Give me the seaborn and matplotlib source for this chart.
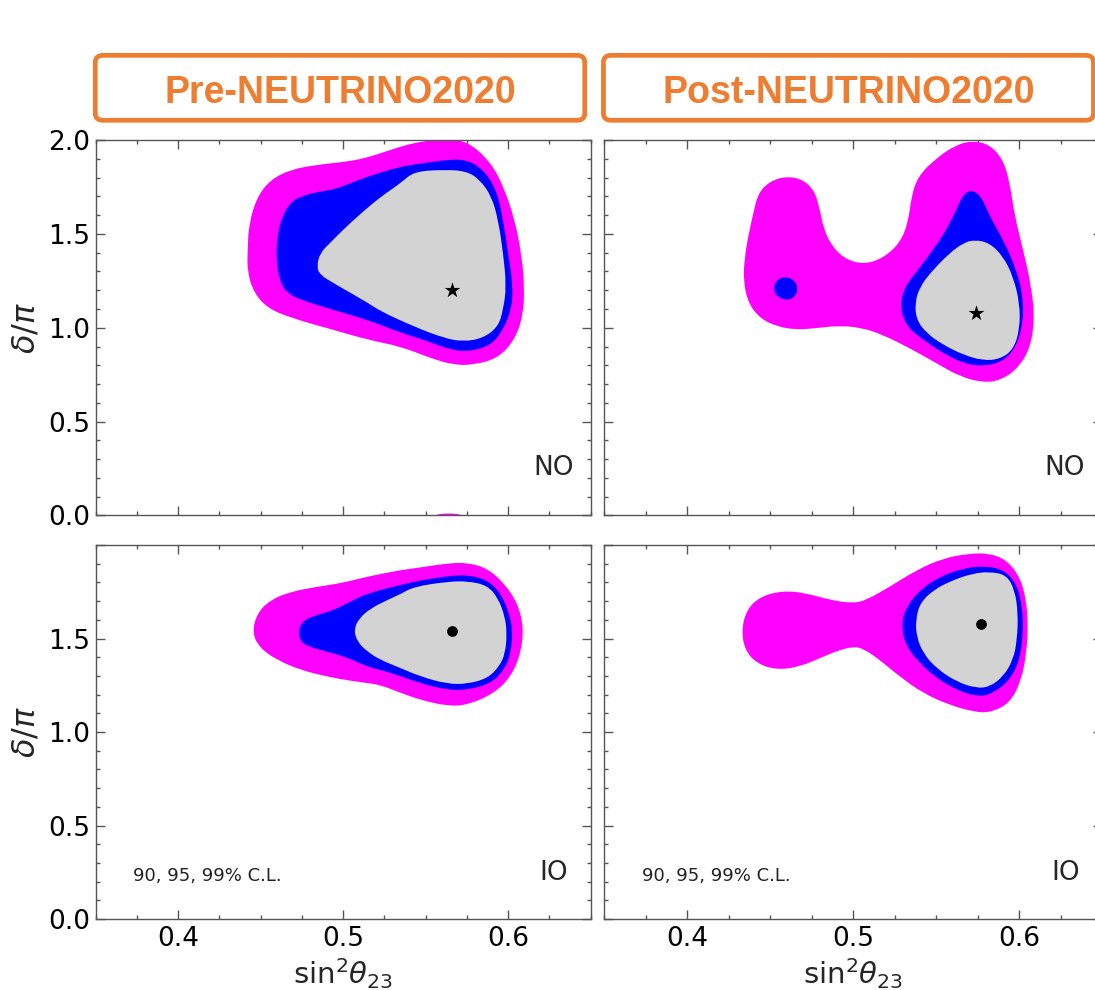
import numpy as np
import matplotlib
matplotlib.use("Agg")
import matplotlib.pyplot as plt
import seaborn as sns
from matplotlib.path import Path
from matplotlib.patches import PathPatch, FancyBboxPatch
from matplotlib.ticker import MultipleLocator

# ---- allowed regions (x = sin^2 theta23, y = delta/pi) ----
# Pre-NEUTRINO2020, normal ordering
pre_no_99_x = [0.442, 0.443, 0.448, 0.456, 0.468, 0.484, 0.504, 0.516, 0.529, 0.543, 0.559, 0.575,
               0.590, 0.598, 0.604, 0.608, 0.610, 0.609, 0.604, 0.594, 0.579, 0.567, 0.553, 0.535,
               0.515, 0.494, 0.468, 0.454, 0.446, 0.442]
pre_no_99_y = [1.415, 1.559, 1.699, 1.788, 1.842, 1.868, 1.886, 1.910, 1.948, 1.986, 2.004, 1.998,
               1.877, 1.735, 1.575, 1.398, 1.220, 1.060, 0.936, 0.838, 0.802, 0.802, 0.838, 0.900,
               0.936, 0.989, 1.053, 1.106, 1.186, 1.293]
pre_no_99_wrap_x = [0.554, 0.556, 0.564, 0.572, 0.574]
pre_no_99_wrap_y = [-0.02, 0.006, 0.012, 0.006, -0.02]
pre_no_95_x = [0.4595, 0.460, 0.463, 0.468, 0.474, 0.486, 0.494, 0.505, 0.515, 0.535, 0.547, 0.563,
               0.575, 0.585, 0.593, 0.597, 0.600, 0.603, 0.602, 0.597, 0.590, 0.577, 0.565, 0.549,
               0.535, 0.515, 0.494, 0.474, 0.466, 0.462]
pre_no_95_y = [1.346, 1.486, 1.593, 1.666, 1.699, 1.726, 1.735, 1.771, 1.806, 1.859, 1.874, 1.895,
               1.895, 1.842, 1.735, 1.575, 1.399, 1.220, 1.095, 0.989, 0.909, 0.873, 0.882, 0.936,
               0.973, 1.042, 1.095, 1.149, 1.186, 1.239]
pre_no_90_x = [0.484, 0.486, 0.492, 0.500, 0.511, 0.523, 0.535, 0.543, 0.563, 0.575, 0.583, 0.590,
               0.594, 0.597, 0.599, 0.597, 0.594, 0.585, 0.573, 0.561, 0.543, 0.523, 0.515, 0.494,
               0.486]
pre_no_90_y = [1.326, 1.398, 1.451, 1.522, 1.611, 1.699, 1.771, 1.833, 1.842, 1.833, 1.788, 1.699,
               1.575, 1.398, 1.220, 1.095, 1.006, 0.945, 0.926, 0.945, 1.006, 1.086, 1.133, 1.238,
               1.282]
pre_no_best = (0.566, 1.20)

# Post-NEUTRINO2020, normal ordering
post_no_99_x = [0.4337, 0.4347, 0.4367, 0.4398, 0.4428, 0.4498, 0.4598, 0.4699, 0.4769, 0.4799,
                0.4819, 0.4859, 0.4940, 0.5060, 0.5181, 0.5281, 0.5331, 0.5351, 0.5391, 0.5502,
                0.5622, 0.5723, 0.5823, 0.5904, 0.5944, 0.5974, 0.6024, 0.6074, 0.6094, 0.6064,
                0.5984, 0.5884, 0.5783, 0.5643, 0.5502, 0.5341, 0.5181, 0.5040, 0.4900, 0.4779,
                0.4659, 0.4538, 0.4438, 0.4367]
post_no_99_y = [1.255, 1.380, 1.486, 1.611, 1.718, 1.780, 1.807, 1.789, 1.726, 1.629,
                1.540, 1.451, 1.371, 1.336, 1.371, 1.451, 1.558, 1.700, 1.807, 1.904,
                1.975, 1.996, 1.975, 1.895, 1.771, 1.593, 1.416, 1.220, 1.042, 0.882,
                0.776, 0.719, 0.708, 0.740, 0.811, 0.891, 0.962, 1.003, 1.010, 0.998,
                0.989, 1.007, 1.051, 1.131]
post_no_99_wrap_x = [0.569, 0.572, 0.576]
post_no_99_wrap_y = [-0.02, 0.008, -0.02]
post_no_95_x = [0.5713, 0.5773, 0.5823, 0.5904, 0.5984, 0.6024, 0.6024, 0.5984, 0.5904, 0.5783,
                0.5663, 0.5542, 0.5422, 0.5321, 0.5281, 0.5311, 0.5392, 0.5482, 0.5562, 0.5622,
                0.5663]
post_no_95_y = [1.735, 1.700, 1.593, 1.469, 1.309, 1.167, 1.025, 0.900, 0.820, 0.794,
                0.811, 0.865, 0.936, 1.007, 1.113, 1.220, 1.309, 1.415, 1.522, 1.629,
                1.709]
post_no_95_island_x = [0.4518, 0.4538, 0.4594, 0.4649, 0.4669, 0.4642, 0.4594, 0.4538]
post_no_95_island_y = [1.211, 1.256, 1.274, 1.252, 1.203, 1.158, 1.146, 1.167]
post_no_90_x = [0.5733, 0.5823, 0.5904, 0.5964, 0.6004, 0.6004, 0.5964, 0.5884, 0.5783, 0.5663,
                0.5542, 0.5442, 0.5382, 0.5372, 0.5402, 0.5482, 0.5582, 0.5663]
post_no_90_y = [1.469, 1.451, 1.380, 1.273, 1.131, 0.989, 0.882, 0.833, 0.825, 0.856,
                0.909, 0.971, 1.042, 1.131, 1.220, 1.309, 1.398, 1.451]
post_no_best = (0.574, 1.08)

# Pre-NEUTRINO2020, inverted ordering
pre_io_99_x = [0.4448, 0.4478, 0.4559, 0.4681, 0.4843, 0.4984, 0.5146, 0.5349, 0.5430, 0.5632,
               0.5754, 0.5875, 0.5977, 0.6058, 0.6094, 0.6078, 0.6017, 0.5916, 0.5754, 0.5632,
               0.5470, 0.5329, 0.5227, 0.5146, 0.5045, 0.4903, 0.4741, 0.4600, 0.4498]
pre_io_99_y = [1.528, 1.635, 1.706, 1.750, 1.777, 1.795, 1.831, 1.866, 1.875, 1.902,
               1.906, 1.875, 1.795, 1.688, 1.563, 1.421, 1.296, 1.207, 1.144, 1.139,
               1.171, 1.216, 1.251, 1.262, 1.274, 1.296, 1.332, 1.385, 1.447]
pre_io_95_x = [0.4727, 0.4762, 0.4843, 0.4944, 0.5025, 0.5146, 0.5349, 0.5430, 0.5632, 0.5754,
               0.5875, 0.5956, 0.6007, 0.6027, 0.6017, 0.5977, 0.5896, 0.5754, 0.5632, 0.5470,
               0.5329, 0.5227, 0.5146, 0.5025, 0.4903, 0.4802, 0.4741]
pre_io_95_y = [1.545, 1.599, 1.626, 1.652, 1.688, 1.742, 1.786, 1.804, 1.834, 1.840,
               1.813, 1.742, 1.635, 1.545, 1.421, 1.332, 1.260, 1.225, 1.225, 1.260,
               1.305, 1.332, 1.349, 1.399, 1.430, 1.453, 1.483]
pre_io_90_x = [0.5065, 0.5096, 0.5167, 0.5268, 0.5349, 0.5430, 0.5632, 0.5754, 0.5875, 0.5940,
               0.5981, 0.5993, 0.5983, 0.5946, 0.5875, 0.5754, 0.5632, 0.5470, 0.5329, 0.5227,
               0.5146, 0.5086]
pre_io_90_y = [1.545, 1.608, 1.661, 1.706, 1.738, 1.777, 1.804, 1.807, 1.784, 1.715,
               1.617, 1.528, 1.421, 1.349, 1.287, 1.257, 1.257, 1.296, 1.349, 1.385,
               1.430, 1.483]
pre_io_best = (0.566, 1.54)

# Post-NEUTRINO2020, inverted ordering
post_io_99_x = [0.4327, 0.4357, 0.4438, 0.4578, 0.4719, 0.4859, 0.5000, 0.5080, 0.5221, 0.5382,
                0.5542, 0.5703, 0.5823, 0.5924, 0.6004, 0.6044, 0.6054, 0.6044, 0.6014, 0.5944,
                0.5823, 0.5723, 0.5582, 0.5422, 0.5281, 0.5161, 0.5060, 0.5000, 0.4920, 0.4819,
                0.4679, 0.4538, 0.4418, 0.4347]
post_io_99_y = [1.545, 1.652, 1.724, 1.756, 1.742, 1.706, 1.688, 1.706, 1.777, 1.866,
                1.929, 1.955, 1.955, 1.920, 1.831, 1.706, 1.563, 1.421, 1.278, 1.153,
                1.103, 1.109, 1.144, 1.207, 1.296, 1.385, 1.447, 1.456, 1.439, 1.403,
                1.349, 1.332, 1.367, 1.439]
post_io_95_x = [0.5291, 0.5321, 0.5402, 0.5522, 0.5663, 0.5783, 0.5904, 0.5984, 0.6020, 0.6024,
                0.6004, 0.5944, 0.5843, 0.5763, 0.5643, 0.5502, 0.5382, 0.5311]
post_io_95_y = [1.581, 1.670, 1.759, 1.831, 1.875, 1.888, 1.870, 1.795, 1.670, 1.528,
                1.385, 1.278, 1.207, 1.189, 1.216, 1.287, 1.385, 1.474]
post_io_90_x = [0.5377, 0.5402, 0.5482, 0.5602, 0.5723, 0.5823, 0.5924, 0.5974, 0.5994, 0.5988,
                0.5964, 0.5904, 0.5823, 0.5743, 0.5622, 0.5502, 0.5422, 0.5382]
post_io_90_y = [1.599, 1.688, 1.759, 1.813, 1.848, 1.857, 1.840, 1.759, 1.635, 1.492,
                1.385, 1.296, 1.242, 1.234, 1.269, 1.340, 1.421, 1.510]
post_io_best = (0.577, 1.58)

titles = ["Pre-NEUTRINO2020", "Post-NEUTRINO2020"]
ordering = ["NO", "IO"]
cl_note = "90, 95, 99% C.L."

C99, C95, C90 = "#ff00ff", "#0000ff", "#d3d3d3"
ORANGE = "#ed7d31"

sns.set_theme(style="ticks")
plt.rcParams["font.family"] = ["DejaVu Sans"]
plt.rcParams["mathtext.fontset"] = "dejavusans"


def region(ax, xs, ys, color):
    # closed smooth outline: polygon vertices used as quadratic control points
    pts = np.column_stack([xs, ys])
    mids = (pts + np.roll(pts, -1, axis=0)) / 2
    verts = [mids[-1]]
    codes = [Path.MOVETO]
    for i in range(len(pts)):
        verts += [pts[i], mids[i]]
        codes += [Path.CURVE3, Path.CURVE3]
    ax.add_patch(PathPatch(Path(verts, codes), facecolor=color, edgecolor="none", zorder=1))


fig = plt.figure(figsize=(10.95, 9.9), dpi=100)

pos = {
    (0, 0): [0.0874, 0.4793, 0.4519, 0.3793],
    (0, 1): [0.5519, 0.4793, 0.4545, 0.3793],
    (1, 0): [0.0874, 0.0717, 0.4519, 0.3778],
    (1, 1): [0.5519, 0.0717, 0.4545, 0.3778],
}

panels = {
    (0, 0): ([(pre_no_99_x, pre_no_99_y, C99), (pre_no_99_wrap_x, pre_no_99_wrap_y, C99),
              (pre_no_95_x, pre_no_95_y, C95), (pre_no_90_x, pre_no_90_y, C90)], pre_no_best, "*"),
    (0, 1): ([(post_no_99_x, post_no_99_y, C99), (post_no_99_wrap_x, post_no_99_wrap_y, C99),
              (post_no_95_x, post_no_95_y, C95), (post_no_95_island_x, post_no_95_island_y, C95),
              (post_no_90_x, post_no_90_y, C90)], post_no_best, "*"),
    (1, 0): ([(pre_io_99_x, pre_io_99_y, C99), (pre_io_95_x, pre_io_95_y, C95),
              (pre_io_90_x, pre_io_90_y, C90)], pre_io_best, "o"),
    (1, 1): ([(post_io_99_x, post_io_99_y, C99), (post_io_95_x, post_io_95_y, C95),
              (post_io_90_x, post_io_90_y, C90)], post_io_best, "o"),
}

for (r, c), (regions, best, mk) in panels.items():
    ax = fig.add_axes(pos[(r, c)])
    for xs, ys, col in regions:
        region(ax, xs, ys, col)
    sns.scatterplot(x=[best[0]], y=[best[1]], marker=mk, s=140 if mk == "*" else 60,
                    color="black", linewidth=0, ax=ax, zorder=3)
    ax.set_xlim(0.35, 0.65)
    ax.set_ylim(0.0, 2.0)
    ax.xaxis.set_major_locator(MultipleLocator(0.1))
    ax.xaxis.set_minor_locator(MultipleLocator(0.025))
    ax.yaxis.set_major_locator(MultipleLocator(0.5))
    ax.yaxis.set_minor_locator(MultipleLocator(0.1))
    ax.tick_params(which="both", direction="in", top=True, right=True, color="#555555",
                   width=1.0, labelsize=19, labelcolor="black")
    ax.tick_params(which="major", length=6.5)
    ax.tick_params(which="minor", length=3.2)
    ax.tick_params(axis="x", pad=5)
    ax.tick_params(axis="y", pad=4)
    for sp in ax.spines.values():
        sp.set_color("#555555")
        sp.set_linewidth(1.0)
    ax.set_xlabel("")
    ax.set_ylabel("")

    if r == 0:
        ax.tick_params(labelbottom=False)
    else:
        ax.set_xticks([0.4, 0.5, 0.6])
        ax.set_xticklabels(["0.4", "0.5", "0.6"])
        ax.set_xlabel(r"$\mathrm{sin}^2\theta_{23}$", fontsize=21, labelpad=3)
        ax.text(0.075, 0.115, cl_note, transform=ax.transAxes, fontsize=13,
                color="#222222", va="center", ha="left")
    if c == 0:
        ax.set_ylabel(r"$\delta/\pi$", fontsize=23, labelpad=5)
        if r == 1:
            ax.set_yticks([0.0, 0.5, 1.0, 1.5, 2.0])
            ax.set_yticklabels(["0.0", "0.5", "1.0", "1.5", ""])
    else:
        ax.tick_params(labelleft=False)

    if r == 0:
        ax.text(0.966, 0.126, ordering[0], transform=ax.transAxes, fontsize=19,
                ha="right", va="center")
    else:
        ax.text(0.955, 0.123, ordering[1], transform=ax.transAxes, fontsize=19,
                ha="right", va="center")

# header boxes
for x0, x1, label in [(0.0870, 0.5340, titles[0]), (0.5511, 0.9986, titles[1])]:
    box = FancyBboxPatch((x0, 0.8785), x1 - x0, 0.9441 - 0.8785,
                         boxstyle="round,pad=0,rounding_size=0.007",
                         transform=fig.transFigure, facecolor="none",
                         edgecolor=ORANGE, linewidth=3.4)
    fig.add_artist(box)
    fig.text((x0 + x1) / 2, 0.8963, label, ha="center", va="baseline",
             fontsize=27, fontweight="bold", color=ORANGE, family=["Liberation Sans"])

fig.savefig("out.png", dpi=100)
